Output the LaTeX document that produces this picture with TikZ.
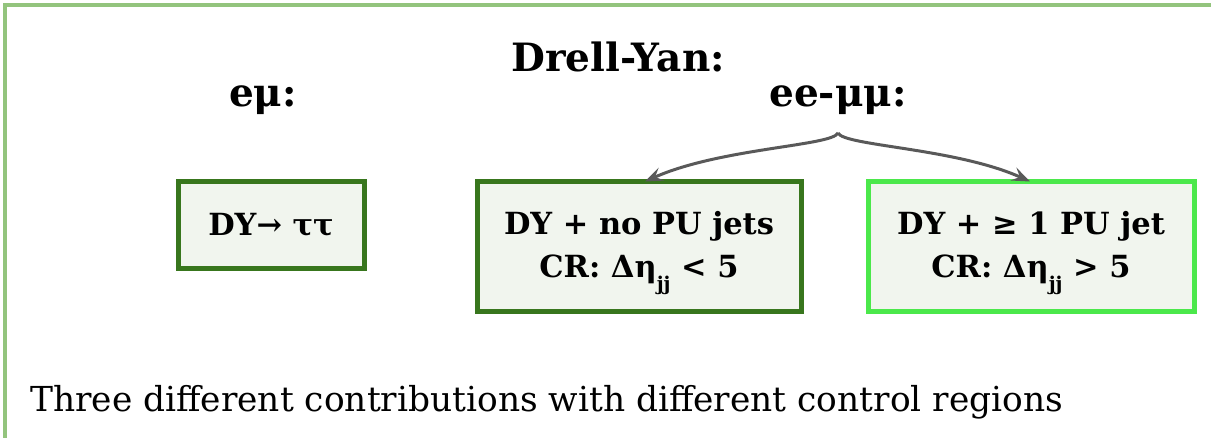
\documentclass[tikz,border=0pt]{standalone}
\usepackage{fontspec}
\setmainfont{DejaVu Serif}
\usetikzlibrary{arrows.meta}
\definecolor{framegreen}{HTML}{93C47D}
\definecolor{darkgreen}{HTML}{38761D}
\definecolor{brightgreen}{HTML}{4BE84B}
\definecolor{boxfill}{HTML}{F1F5EE}
\definecolor{arrowgray}{HTML}{595959}
\newcommand{\jj}{\raisebox{-0.42em}{\fontsize{19}{19}\selectfont jj}}
% taller first line so the two-line labels sit a little lower in their boxes
\newcommand{\toppad}{\rule{0pt}{37pt}}
\tikzset{
  catbox/.style={draw=darkgreen, line width=5pt, fill=boxfill, inner sep=0pt,
    align=center, font=\bfseries\fontsize{30.5}{43}\selectfont},
  head/.style={font=\bfseries\fontsize{39}{44}\selectfont, inner sep=0pt},
  split/.style={draw=arrowgray, line width=3pt,
    -{Stealth[length=18pt,width=14pt,inset=7pt]}},
}
\begin{document}
\begin{tikzpicture}[x=1pt,y=-1pt]
\useasboundingbox (0,0) rectangle (1211,437);
% outer frame, open to the right and bottom
\draw[framegreen, line width=4pt] (5,440) -- (5,5) -- (1215,5);

\node[head] (title) at (618,57) {Drell-Yan:};
\node[head] (emu) at (263,100) {eμ:};
\node[head] (eemumu) at (838,100) {ee-μμ:};

\node[catbox, minimum width=186pt, minimum height=87pt] (tautau) at (271,224.5) {DY→ ττ};
\node[catbox, minimum width=324pt, minimum height=130pt] (nopu) at (639,246) {\toppad DY + no PU jets\\CR: Δη\jj{} < 5};
\node[catbox, draw=brightgreen, minimum width=326pt, minimum height=130pt] (pu) at (1031,246) {\toppad DY + ≥ 1 PU jet\\CR: Δη\jj{} > 5};

\coordinate (fork) at (838,133);
\draw[split] (fork) .. controls (832,146) and (720,148) .. ([xshift=6pt,yshift=-3pt]nopu.north);
\draw[split] (fork) .. controls (844,146) and (956,148) .. ([xshift=-1pt,yshift=-3pt]pu.north);

\node[anchor=base west, inner sep=0pt, font=\fontsize{34.4}{40}\selectfont] (note) at (30,411)
  {Three different contributions with different control regions};
\end{tikzpicture}
\end{document}
